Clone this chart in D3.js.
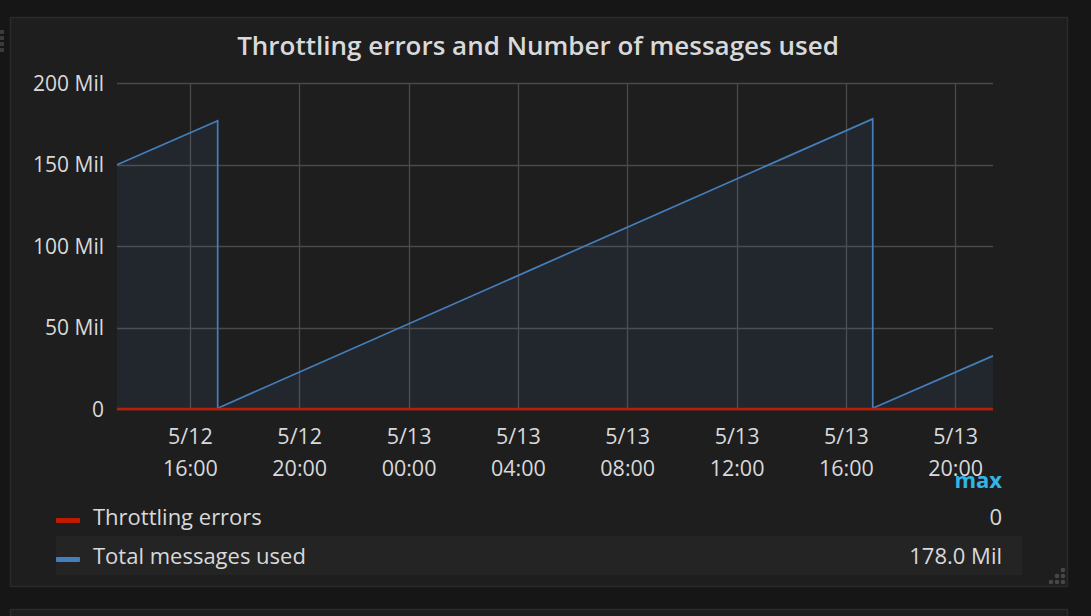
<!DOCTYPE html>
<html>
<head>
<meta charset="utf-8">
<script src="https://cdn.jsdelivr.net/npm/d3@7"></script>
<style>
  html, body { margin: 0; padding: 0; background: #161616; }
  svg { display: block; font-family: "Open Sans", "Noto Sans", sans-serif; }
</style>
</head>
<body>
<svg id="chart" width="1091" height="616"></svg>
<script>
// ---- data ----
const seriesNames = ["Throttling errors", "Total messages used"];
const seriesColors = ["#bf1b00", "#447ebc"];
const legendMax = ["0", "178.0 Mil"];
const throttleTimes = ["2018-05-12 13:20", "2018-05-13 21:23"];
const throttleValues = [0, 0];
const msgTimes = ["2018-05-12 13:20", "2018-05-12 17:01", "2018-05-12 17:01", "2018-05-13 16:59", "2018-05-13 16:59", "2018-05-13 21:23"];
const msgValues = [149.8, 176.8, 0.5, 178.0, 0.5, 32.6];
const yTicks = [0, 50, 100, 150, 200];
const xDomain = ["2018-05-12 13:20", "2018-05-13 21:23"];

(function () {
const parse = d3.timeParse("%Y-%m-%d %H:%M");
const svg = d3.select("#chart");

// panels
svg.append("rect").attr("x", 10.5).attr("y", 17.5).attr("width", 1057).attr("height", 569)
  .attr("fill", "#1f1e1f").attr("stroke", "#2b2b2b").attr("stroke-width", 1.5);
svg.append("rect").attr("x", 10.5).attr("y", 609.5).attr("width", 1057).attr("height", 20)
  .attr("fill", "#1f1e1f").attr("stroke", "#2b2b2b").attr("stroke-width", 1.5);

// drag handle top-left
[32, 38, 44, 50].forEach(yy => svg.append("rect").attr("x", 0).attr("y", yy - 2).attr("width", 4).attr("height", 4).attr("fill", "#3a3a3a"));
// resize grip
[[1063, 570], [1063, 576], [1057, 576], [1063, 582], [1057, 582], [1051, 582]].forEach(([cx, cy]) =>
  svg.append("circle").attr("cx", cx).attr("cy", cy).attr("r", 2.3).attr("fill", "#474747"));

// title
svg.append("text").attr("x", 538).attr("y", 55).attr("text-anchor", "middle")
  .attr("fill", "#d8d9da").attr("font-size", 26).attr("font-weight", 600)
  .text("Throttling errors and Number of messages used");

const pL = 117, pR = 993, pT = 83, pB = 409;
const x = d3.scaleTime().domain(xDomain.map(parse)).range([pL, pR]);
const y = d3.scaleLinear().domain([0, 200]).range([pB, pT]);

// grid
const xTicks = x.ticks(d3.timeHour.every(4));
const grid = svg.append("g");
grid.selectAll(".hg").data(yTicks).join("line")
  .attr("x1", pL).attr("x2", pR).attr("y1", d => Math.round(y(d)) + 0.5).attr("y2", d => Math.round(y(d)) + 0.5)
  .attr("stroke", "#4a4a4a").attr("stroke-width", 1.3);
grid.selectAll(".vg").data(xTicks).join("line")
  .attr("x1", d => Math.round(x(d)) + 0.5).attr("x2", d => Math.round(x(d)) + 0.5).attr("y1", pT).attr("y2", pB)
  .attr("stroke", "#4a4a4a").attr("stroke-width", 1.3);

// y axis labels
const yAxis = d3.axisLeft(y).tickValues(yTicks).tickSize(0).tickPadding(13)
  .tickFormat(d => d === 0 ? "0" : d + " Mil");
const ya = svg.append("g").attr("transform", `translate(${pL},0)`).call(yAxis);
ya.select(".domain").remove();
ya.selectAll("text").attr("fill", "#d8d9da").attr("font-size", 21).attr("font-family", "Open Sans, sans-serif").attr("dy", "0.35em");

// x axis labels
const xAxis = d3.axisBottom(x).tickValues(xTicks).tickSize(0).tickFormat("");
const xa = svg.append("g").attr("transform", `translate(0,${pB})`).call(xAxis);
xa.select(".domain").remove();
xa.selectAll(".tick").each(function(d) {
  const t = d3.select(this).append("text").attr("fill", "#d8d9da").attr("font-size", 21.5)
    .attr("text-anchor", "middle").attr("font-family", "Open Sans, sans-serif");
  t.append("tspan").attr("x", 0).attr("y", 35).text(d3.timeFormat("%-m/%d")(d));
  t.append("tspan").attr("x", 0).attr("y", 67).text(d3.timeFormat("%H:%M")(d));
});

// messages series
const msgData = msgTimes.map((t, i) => ({ t: parse(t), v: msgValues[i] }));
svg.append("path").datum(msgData)
  .attr("d", d3.area().x(d => x(d.t)).y0(y(0)).y1(d => y(d.v)))
  .attr("fill", "#447ebc").attr("fill-opacity", 0.1);
svg.append("path").datum(msgData)
  .attr("d", d3.line().x(d => x(d.t)).y(d => y(d.v)))
  .attr("fill", "none").attr("stroke", seriesColors[1]).attr("stroke-width", 1.7);

// throttling series
const thrData = throttleTimes.map((t, i) => ({ t: parse(t), v: throttleValues[i] }));
svg.append("path").datum(thrData)
  .attr("d", d3.line().x(d => x(d.t)).y(d => y(d.v)))
  .attr("fill", "none").attr("stroke", seriesColors[0]).attr("stroke-width", 2.5);

// legend
svg.append("text").attr("x", 1002).attr("y", 488).attr("text-anchor", "end")
  .attr("fill", "#33b5e5").attr("font-size", 22).attr("font-weight", 700).text("max");
svg.append("rect").attr("x", 56).attr("y", 536).attr("width", 966).attr("height", 39).attr("fill", "#252425");
const rowsY = [517, 556];
seriesNames.forEach((name, i) => {
  svg.append("rect").attr("x", 56).attr("y", rowsY[i] + 1).attr("width", 24).attr("height", 5)
    .attr("rx", 1).attr("fill", seriesColors[i]);
  svg.append("text").attr("x", 93).attr("y", rowsY[i]).attr("dy", "0.35em")
    .attr("fill", "#d8d9da").attr("font-size", 22).text(name);
  svg.append("text").attr("x", 1002).attr("y", rowsY[i]).attr("dy", "0.35em").attr("text-anchor", "end")
    .attr("fill", "#d8d9da").attr("font-size", 22).text(legendMax[i]);
});
})();
</script>
</body>
</html>
